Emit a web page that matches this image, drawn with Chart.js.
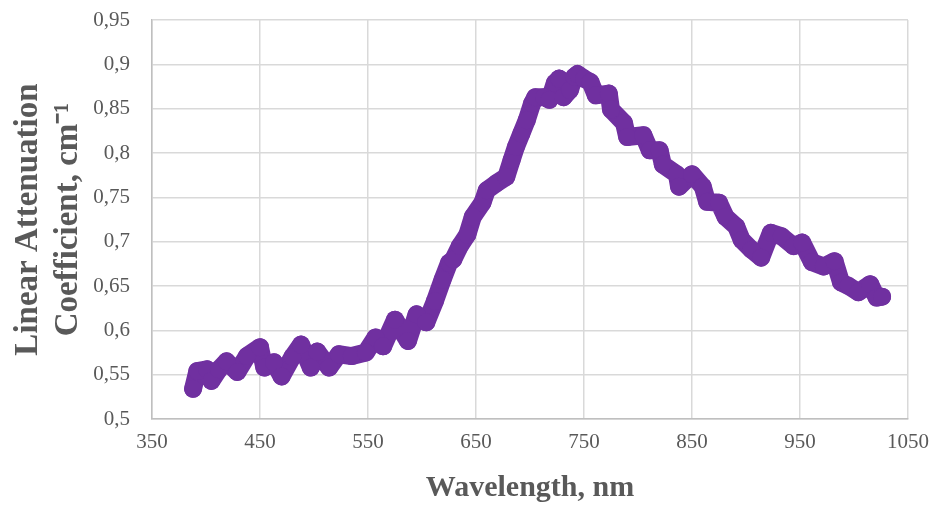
<!DOCTYPE html>
<html>
<head>
<meta charset="utf-8">
<script src="https://cdn.jsdelivr.net/npm/chart.js@4/dist/chart.umd.min.js"></script>
<style>
  html, body { margin: 0; padding: 0; background: #fff; }
  #wrap { width: 939px; height: 509px; }
</style>
</head>
<body>
<div id="wrap"><canvas id="spectrum"></canvas></div>
<script>
// Wavelength (nm) and linear attenuation coefficient (cm^-1)
const wavelength = [
  388, 392, 401, 405, 412, 419, 429, 438, 450, 454,
  463, 470, 480, 488, 497, 503, 514, 523, 535, 548,
  557, 564, 575, 587, 595, 604, 612, 619, 625, 629,
  635, 642, 647, 656, 660, 669, 678, 683, 687, 692,
  697, 702, 705, 713, 718, 723, 727, 731, 737, 741,
  744, 750, 756, 761, 773, 775, 787, 790, 805, 811,
  820, 823, 836, 838, 850, 860, 864, 875, 881, 891,
  896, 905, 914, 923, 933, 944, 952, 961, 972, 982,
  988, 995, 1004, 1015, 1021, 1026
];
const attenuation = [
  0.534, 0.554, 0.556, 0.543, 0.556, 0.565, 0.553, 0.571, 0.581, 0.558,
  0.564, 0.548, 0.570, 0.584, 0.558, 0.576, 0.558, 0.573, 0.571, 0.575,
  0.592, 0.582, 0.612, 0.588, 0.618, 0.609, 0.633, 0.657, 0.676, 0.680,
  0.695, 0.708, 0.728, 0.744, 0.758, 0.766, 0.773, 0.792, 0.807, 0.822,
  0.837, 0.856, 0.863, 0.863, 0.860, 0.879, 0.884, 0.863, 0.871, 0.886,
  0.889, 0.884, 0.880, 0.865, 0.867, 0.849, 0.834, 0.818, 0.820, 0.803,
  0.803, 0.787, 0.776, 0.762, 0.776, 0.762, 0.745, 0.744, 0.728, 0.717,
  0.702, 0.691, 0.682, 0.710, 0.706, 0.695, 0.699, 0.677, 0.672, 0.678,
  0.654, 0.650, 0.643, 0.652, 0.637, 0.638
];

const xTicks = [350, 450, 550, 650, 750, 850, 950, 1050];
const yTicks = [0.5, 0.55, 0.6, 0.65, 0.7, 0.75, 0.8, 0.85, 0.9, 0.95];

const points = wavelength.map((w, i) => ({ x: w, y: attenuation[i] }));

const purple = '#7030A0';
const gridColor = '#d9d9d9';
const textColor = '#595959';
const serif = '"Liberation Serif", "Times New Roman", serif';

new Chart(document.getElementById('spectrum'), {
  type: 'scatter',
  data: {
    datasets: [{
      data: points,
      showLine: true,
      borderColor: purple,
      borderWidth: 18,
      borderCapStyle: 'round',
      borderJoinStyle: 'round',
      backgroundColor: purple,
      pointRadius: 9,
      pointHoverRadius: 9,
      pointBorderWidth: 0,
      pointBackgroundColor: purple
    }]
  },
  options: {
    responsive: true,
    maintainAspectRatio: false,
    animation: false,
    layout: { padding: { top: 20, right: 31, bottom: 0, left: 0 } },
    plugins: {
      legend: { display: false },
      tooltip: { enabled: false }
    },
    scales: {
      x: {
        type: 'linear',
        min: 350,
        max: 1050,
        afterBuildTicks: (s) => { s.ticks = xTicks.map(v => ({ value: v })); },
        afterFit: (s) => {
          s.height = 90;
          s.paddingLeft = 0;
          s.paddingRight = 0;
        },
        grid: { color: gridColor, lineWidth: 1.5, drawTicks: false },
        border: { color: '#bfbfbf', width: 1.5 },
        ticks: {
          padding: 11,
          color: textColor,
          font: { family: serif, size: 21 },
          maxRotation: 0,
          autoSkip: false,
          callback: (v) => String(v)
        },
        title: {
          display: true,
          text: 'Wavelength, nm',
          color: textColor,
          font: { family: serif, size: 30, weight: 'bold' },
          padding: { top: 0, bottom: 3 }
        }
      },
      y: {
        min: 0.5,
        max: 0.95,
        afterBuildTicks: (s) => { s.ticks = yTicks.map(v => ({ value: v })); },
        afterFit: (s) => {
          s.width = 152;
          s.paddingTop = 0;
          s.paddingBottom = 0;
        },
        grid: { color: gridColor, lineWidth: 1.5, drawTicks: false },
        border: { color: '#bfbfbf', width: 1.5 },
        ticks: {
          padding: 22,
          color: textColor,
          font: { family: serif, size: 21 },
          autoSkip: false,
          callback: (v) => String(v).replace('.', ',')
        },
        title: {
          display: true,
          text: ['Linear Attenuation', 'Coefficient, cm\u207B\u00B9'],
          color: textColor,
          font: { family: serif, size: 33, weight: 'bold' },
          lineHeight: 1.12,
          padding: { top: 9, bottom: 0 }
        }
      }
    }
  }
});
</script>
</body>
</html>
